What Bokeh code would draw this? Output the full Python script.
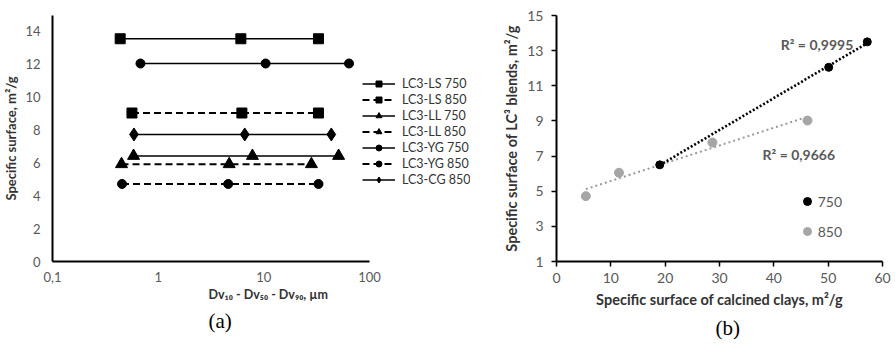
import numpy as np
from bokeh.plotting import figure
from bokeh.layouts import row
from bokeh.models import (Range1d, FixedTicker, Legend, LegendItem, Label, Title)
from bokeh.embed import file_html
from bokeh.resources import INLINE

# ---------------- data: chart (a) ----------------
series_names = ["LC3-LS 750", "LC3-LS 850", "LC3-LL 750", "LC3-LL 850",
                "LC3-YG 750", "LC3-YG 850", "LC3-CG 850"]
ls750_x = [0.437, 6.06, 32.9]
ls850_x = [0.565, 6.2, 32.9]
ll750_x = [0.585, 7.8, 51.0]
ll850_x = [0.45, 4.7, 28.2]
yg750_x = [0.68, 10.4, 64.0]
yg850_x = [0.455, 4.6, 32.9]
cg850_x = [0.59, 6.6, 43.5]
ls750_y = [13.5, 13.5, 13.5]
ls850_y = [9.0, 9.0, 9.0]
ll750_y = [6.4, 6.4, 6.4]
ll850_y = [5.9, 5.9, 5.9]
yg750_y = [12.0, 12.0, 12.0]
yg850_y = [4.7, 4.7, 4.7]
cg850_y = [7.7, 7.7, 7.7]
a_xticks = [0.1, 1, 10, 100]
a_xtick_labels = ["0,1", "1", "10", "100"]
a_yticks = [0, 2, 4, 6, 8, 10, 12, 14]
a_xtitle = "Dv\u2081\u2080 - Dv\u2085\u2080  - Dv\u2089\u2080, \u00b5m"
a_ytitle = "Specific surface, m\u00b2/g"

# ---------------- data: chart (b) ----------------
b750_x = [19.0, 50.1, 57.2]
b750_y = [6.5, 12.05, 13.5]
b850_x = [5.4, 11.5, 28.7, 46.2]
b850_y = [4.72, 6.05, 7.77, 9.02]
r2_750 = "R\u00b2 = 0,9995"
r2_850 = "R\u00b2 = 0,9666"
b_xticks = [0, 10, 20, 30, 40, 50, 60]
b_yticks = [1, 3, 5, 7, 9, 11, 13, 15]
b_xtitle = "Specific surface of calcined clays, m\u00b2/g"
b_ytitle = "Specific surface of LC\u00b3 blends, m\u00b2/g"

FONT = "Lato"
TICK_COL = "#595959"
TITLE_COL = "#333333"

# ================= chart (a) =================
A_W, A_LEFT, A_FRAME_W = 478, 52, 418      # frame extends past the axis end to host the legend
A_AXIS_PX = 317                            # pixel length of the 0.1 .. 100 axis
pa = figure(width=A_W, height=347, x_axis_type="log", output_backend="svg",
            toolbar_location=None, min_border_left=A_LEFT,
            min_border_right=A_W - A_LEFT - A_FRAME_W,
            min_border_top=5, min_border_bottom=81)
x_end = 10 ** (-1 + 3 * A_FRAME_W / A_AXIS_PX)
pa.x_range = Range1d(0.1, x_end)
pa.y_range = Range1d(0, 14.91)
pa.grid.visible = False
pa.outline_line_color = None

specs = [
    (ls750_x, ls750_y, "square", 10, None),
    (ls850_x, ls850_y, "square", 10, "7 4"),
    (ll750_x, ll750_y, "triangle", 12, None),
    (ll850_x, ll850_y, "triangle", 12, "7 4"),
    (yg750_x, yg750_y, "circle", 9, None),
    (yg850_x, yg850_y, "circle", 9, "7 4"),
    (cg850_x, cg850_y, "diamond", 13, None),
]
items = []
for name, (xs, ys, mk, sz, dash) in zip(series_names, specs):
    if dash:
        ln = pa.line(xs, ys, line_color="black", line_width=2, line_dash=dash)
    else:
        ln = pa.line(xs, ys, line_color="black", line_width=1.5)
    sc = pa.scatter(xs, ys, marker=mk, size=sz, fill_color="black", line_color="black")
    items.append(LegendItem(label=name, renderers=[ln, sc]))

leg_a = Legend(items=items, location=(310, 74), padding=0, margin=0,
               border_line_color=None, background_fill_alpha=0,
               glyph_width=33, glyph_height=15, label_height=15, spacing=1,
               label_standoff=7, label_text_font=FONT,
               label_text_font_size="12.5px", label_text_color="#333333")
pa.add_layout(leg_a, "center")

for ax in (pa.xaxis[0], pa.yaxis[0]):
    ax.axis_line_color = "black"
    ax.axis_line_width = 2
    ax.major_tick_out = 0
    ax.major_tick_in = 0
    ax.minor_tick_out = 0
    ax.minor_tick_in = 0
    ax.major_label_text_font = FONT
    ax.major_label_text_font_size = "13px"
    ax.major_label_text_color = TICK_COL
    ax.axis_label_text_font = FONT
    ax.axis_label_text_font_size = "13px"
    ax.axis_label_text_font_style = "bold"
    ax.axis_label_text_color = TITLE_COL

pa.xaxis[0].bounds = (0.1, 100)
pa.xaxis[0].ticker = FixedTicker(ticks=a_xticks, minor_ticks=[])
pa.xaxis[0].major_label_overrides = {float(v): lab for v, lab in zip(a_xticks, a_xtick_labels)}
pa.xaxis[0].major_label_standoff = 10
pa.yaxis[0].ticker = FixedTicker(ticks=a_yticks)
pa.yaxis[0].major_label_standoff = 12
pa.yaxis[0].axis_label = a_ytitle
pa.yaxis[0].axis_label_standoff = 3

pa.add_layout(Title(text=a_xtitle, align="left", offset=156, standoff=4,
                    vertical_align="top", text_font=FONT, text_font_size="12.5px",
                    text_font_style="bold", text_color=TITLE_COL), "below")
pa.add_layout(Title(text="(a)", align="left", offset=156, standoff=6,
                    vertical_align="top", text_font="Liberation Serif",
                    text_font_size="21px", text_font_style="normal",
                    text_color="black"), "below")

# ================= chart (b) =================
B_W = 895 - A_W
pb = figure(width=B_W, height=347, output_backend="svg", toolbar_location=None,
            min_border_left=78, min_border_right=B_W - 78 - 326, min_border_top=15,
            min_border_bottom=86)
pb.x_range = Range1d(0, 60)
pb.y_range = Range1d(1, 15)
pb.grid.visible = False
pb.outline_line_color = None

# linear trendlines (least squares over each series)
k7, c7 = np.polyfit(b750_x, b750_y, 1)
k8, c8 = np.polyfit(b850_x, b850_y, 1)
t7x = [min(b750_x), max(b750_x)]
t8x = [min(b850_x), max(b850_x)]
pb.line(t8x, [k8 * v + c8 for v in t8x], line_color="#9a9a9a", line_width=2,
        line_dash="2 3")
pb.line(t7x, [k7 * v + c7 for v in t7x], line_color="black", line_width=2.6,
        line_dash="2 2")

r7 = pb.scatter(b750_x, b750_y, marker="circle", size=8, fill_color="black", line_color="black")
r8 = pb.scatter(b850_x, b850_y, marker="circle", size=9, fill_color="#a6a6a6", line_color="#a6a6a6")

leg_b = Legend(items=[LegendItem(label="750", renderers=[r7]),
                      LegendItem(label="850", renderers=[r8])],
               location=(240.7, 20), padding=0, margin=0,
               border_line_color=None, background_fill_alpha=0,
               glyph_width=20, glyph_height=20, label_height=20, spacing=10,
               label_standoff=1, label_text_font=FONT,
               label_text_font_size="14px", label_text_color=TICK_COL)
pb.add_layout(leg_b, "center")

pb.add_layout(Label(x=47.95, y=13.35, text=r2_750, text_font=FONT, text_font_size="14px",
                    text_font_style="bold", text_color=TICK_COL, text_align="center",
                    text_baseline="middle"))
pb.add_layout(Label(x=44.6, y=7.09, text=r2_850, text_font=FONT, text_font_size="14px",
                    text_font_style="bold", text_color=TICK_COL, text_align="center",
                    text_baseline="middle"))

for ax in (pb.xaxis[0], pb.yaxis[0]):
    ax.axis_line_color = "black"
    ax.axis_line_width = 2
    ax.major_tick_out = 5
    ax.major_tick_in = 0
    ax.major_tick_line_color = "black"
    ax.major_tick_line_width = 1.5
    ax.minor_tick_out = 0
    ax.minor_tick_in = 0
    ax.major_label_text_font = FONT
    ax.major_label_text_font_size = "14px"
    ax.major_label_text_color = TICK_COL
    ax.axis_label_text_font = FONT
    ax.axis_label_text_font_size = "14.5px"
    ax.axis_label_text_font_style = "bold"
    ax.axis_label_text_color = TITLE_COL

pb.xaxis[0].ticker = FixedTicker(ticks=b_xticks)
pb.xaxis[0].major_label_standoff = 6
pb.xaxis[0].axis_label = b_xtitle
pb.xaxis[0].axis_label_standoff = 5
pb.yaxis[0].ticker = FixedTicker(ticks=b_yticks)
pb.yaxis[0].major_label_standoff = 8
pb.yaxis[0].axis_label = b_ytitle
pb.yaxis[0].axis_label_standoff = 4

pb.add_layout(Title(text="(b)", align="left", offset=159, standoff=10,
                    vertical_align="top", text_font="Liberation Serif",
                    text_font_size="21px", text_font_style="normal",
                    text_color="black"), "below")

layout = row(pa, pb)
open("out.html", "w").write(file_html(layout, INLINE))
